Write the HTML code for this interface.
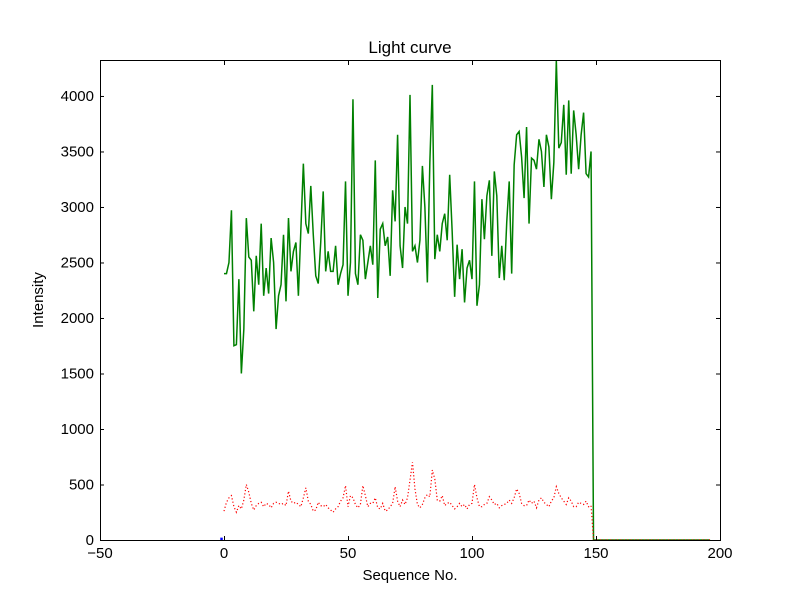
<!DOCTYPE html>
<html><head><meta charset="utf-8"><style>
body{margin:0;background:#fff;}
svg{display:block;font-family:"Liberation Sans","DejaVu Sans",sans-serif;}
</style></head><body>
<svg id="chart" width="800" height="600" viewBox="0 0 800 600" xmlns="http://www.w3.org/2000/svg">
<rect width="800" height="600" fill="#fff"/>
<text x="410" y="53" font-size="17" text-anchor="middle">Light curve</text>
<text x="410" y="580" font-size="15" text-anchor="middle">Sequence No.</text>
<text x="43" y="300" font-size="15" text-anchor="middle" transform="rotate(-90 43 300)">Intensity</text>
<g id="plot"></g>
<rect x="100.5" y="60.5" width="620" height="480" fill="none" stroke="#000" stroke-width="1"/>
<g id="ticks"></g>
</svg>
<script>
const intensity = [2400,2400,2500,2970,1750,1760,2350,1500,1900,2900,2550,2520,2060,2560,2300,2850,2200,2450,2220,2720,2500,1900,2200,2300,2750,2150,2900,2420,2600,2680,2200,2800,3390,2850,2760,3190,2750,2380,2310,2680,3140,2420,2600,2420,2420,2650,2300,2400,2480,3230,2200,2500,3970,2400,2300,2750,2700,2350,2500,2650,2480,3420,2180,2800,2850,2650,2730,2380,3150,2870,3650,2650,2450,3000,2850,4010,2600,2650,2500,2700,3370,3000,2320,3400,4100,2530,2750,2600,2850,2940,2700,3290,2780,2190,2660,2350,2620,2140,2450,2520,2350,3230,2110,2300,3070,2710,3100,3240,2560,3320,3100,2360,2650,2340,2860,3230,2400,3380,3650,3680,3450,3080,3720,2850,3440,3420,3340,3610,3500,3180,3650,3540,3070,3400,4320,3530,3580,3920,3290,3960,3300,3870,3650,3340,3650,3850,3300,3270,3500,0];
const background = [260,340,380,400,300,250,310,280,360,500,430,330,270,310,330,340,300,330,320,290,330,340,330,320,330,310,440,350,330,340,320,300,380,470,350,320,260,270,340,310,300,320,290,270,250,280,300,350,380,490,300,400,380,320,290,320,490,400,300,330,330,380,290,280,330,260,270,300,330,480,350,300,360,320,380,540,700,460,320,290,320,380,410,390,630,550,360,350,400,310,330,340,310,280,300,330,300,320,280,320,330,500,380,300,300,320,330,390,360,320,330,290,310,320,330,360,330,380,460,420,330,310,310,360,330,350,290,360,380,340,320,300,350,380,480,420,380,350,320,380,350,300,300,340,330,320,350,300,310,0];
const tailStart = 149, tailEnd = 196;
const xTicks = [-50,0,50,100,150,200];
const yTicks = [0,500,1000,1500,2000,2500,3000,3500,4000];
const xMin=-50,xMax=200,yMin=0,yMax=4324;
const X=v=>100+(v-xMin)/(xMax-xMin)*620;
const Y=v=>540-(v-yMin)/(yMax-yMin)*480;
const NS="http://www.w3.org/2000/svg";
const plot=document.getElementById('plot'), ticks=document.getElementById('ticks');
function mk(t,a,p){const e=document.createElementNS(NS,t);for(const k in a)e.setAttribute(k,a[k]);p.appendChild(e);return e;}
function pts(arr){return arr.map((v,i)=>X(i).toFixed(2)+','+Y(v).toFixed(2)).join(' ')+' '+X(tailEnd)+','+Y(0);}
const g=mk('polyline',{points:pts(intensity),fill:'none',stroke:'#008000','stroke-width':1.5},plot);


const r=mk('polyline',{points:pts(background),fill:'none',stroke:'#ff0000','stroke-width':1.2,'stroke-dasharray':'1.2,2.2'},plot);


const b=mk('line',{x1:X(-1.5),x2:X(-0.5),y1:Y(10),y2:Y(10),stroke:'#0000ff','stroke-width':2.5},plot);


xTicks.forEach(v=>{const x=X(v)+0.5;
 const t1=mk('line',{x1:x,x2:x,y1:540,y2:536,stroke:'#000'},ticks);
 
 
 mk('line',{x1:x,x2:x,y1:61,y2:65,stroke:'#000'},ticks);
 const l=mk('text',{x:X(v),y:558,'font-size':15,'text-anchor':'middle'},ticks);l.textContent=v<0?'\u2212'+(-v):v;
 
 
});
yTicks.forEach(v=>{const y=Y(v)+0.5;
 const t1=mk('line',{x1:100,x2:104,y1:y,y2:y,stroke:'#000'},ticks);
 
 
 mk('line',{x1:716,x2:720,y1:y,y2:y,stroke:'#000'},ticks);
 const l=mk('text',{x:94,y:Y(v)+5,'font-size':15,'text-anchor':'end'},ticks);l.textContent=v;
 
 
});
</script>
</body></html>
